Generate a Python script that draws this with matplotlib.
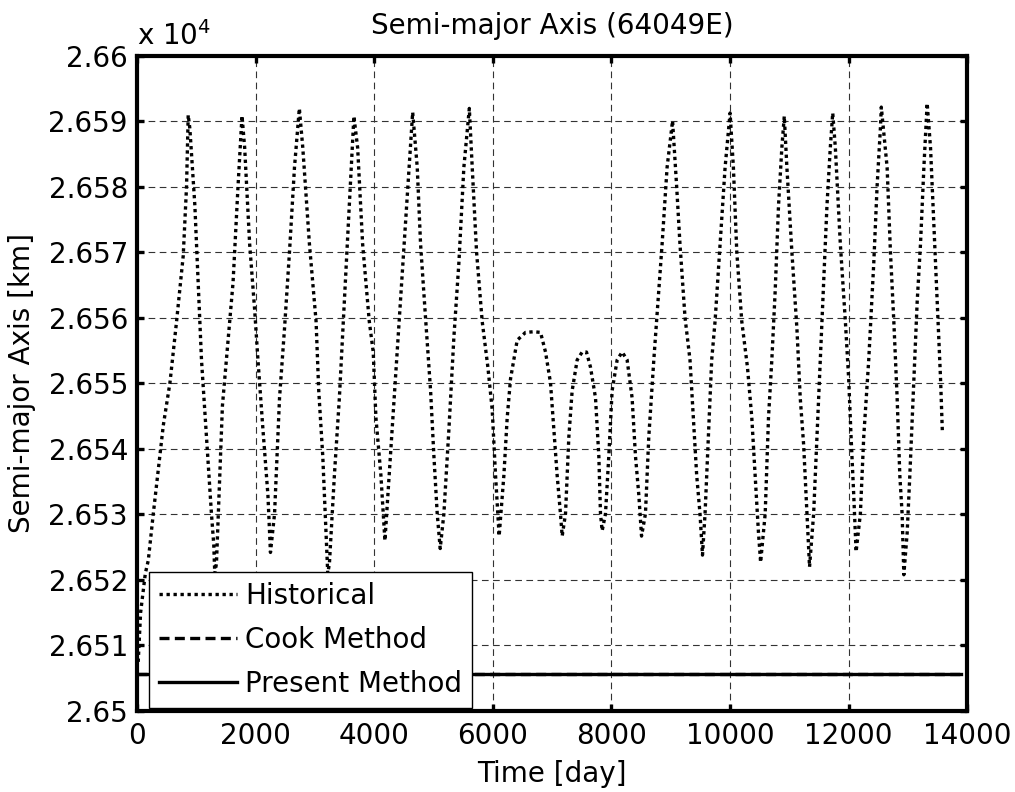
import matplotlib
matplotlib.use("Agg")
import matplotlib.pyplot as plt
from matplotlib.ticker import FuncFormatter

# historical semi-major axis (day, km)
hist_day = [20, 60, 140, 190, 274, 443, 555, 667, 779, 835, 863,
            891, 975, 1031, 1087, 1171, 1255, 1294, 1311,
            1339, 1395, 1440, 1507, 1619, 1703, 1770,
            1815, 1899, 1983, 2039, 2123, 2207, 2250,
            2319, 2403, 2487, 2571, 2655, 2737,
            2795, 2907, 3019, 3064, 3132, 3188, 3216,
            3244, 3328, 3412, 3496, 3580, 3657,
            3720, 3804, 3916, 3983, 4028, 4112, 4180,
            4252, 4336, 4420, 4504, 4588, 4648,
            4725, 4781, 4865, 4950, 5006, 5062, 5112,
            5174, 5259, 5343, 5427, 5511, 5603,
            5652, 5725, 5820, 5916, 5989, 6045, 6084, 6106,
            6186, 6242, 6298, 6410, 6551, 6691, 6804, 6888, 6972, 7028, 7084, 7140, 7169,
            7225, 7281, 7337, 7422, 7506, 7579, 7646, 7731, 7787, 7815, 7843,
            7899, 7955, 8011, 8096, 8180, 8264, 8348, 8405, 8461, 8507,
            8573, 8629, 8714, 8770, 8854, 8938, 9030,
            9099, 9155, 9240, 9324, 9380, 9437, 9493, 9535,
            9578, 9634, 9690, 9747, 9831, 9916, 10000,
            10056, 10113, 10197, 10293, 10366, 10423, 10479, 10515,
            10592, 10648, 10704, 10761, 10817, 10873, 10914,
            10958, 11042, 11127, 11183, 11240, 11296, 11340,
            11409, 11465, 11521, 11578, 11634, 11690, 11731,
            11775, 11859, 11944, 12000, 12040, 12085, 12125,
            12197, 12254, 12338, 12423, 12479, 12535, 12550,
            12648, 12704, 12761, 12817, 12862, 12901, 12930,
            12986, 13031, 13099, 13155, 13211, 13268, 13323,
            13380, 13437, 13493, 13549, 13580]
hist_km = [26507.5, 26515, 26521, 26523, 26530.1, 26543.6, 26550.1, 26559.5, 26569.5, 26580.1, 26591.0,
           26588.9, 26577.2, 26565.4, 26553.6, 26541.9, 26530.1, 26525.4, 26521.0,
           26522.5, 26536.0, 26546.6, 26553.6, 26565.4, 26580.1, 26590.9,
           26586.0, 26571.3, 26561.3, 26553.6, 26543.0, 26533.0, 26524.2,
           26530.1, 26547.8, 26558.4, 26570.1, 26583.0, 26592.0,
           26586.0, 26571.3, 26559.5, 26548.9, 26538.9, 26527.2, 26521.0,
           26522.5, 26536.0, 26547.8, 26562.5, 26577.2, 26590.8,
           26586.0, 26571.3, 26559.5, 26554.8, 26544.8, 26536.0, 26526.0,
           26536.0, 26547.8, 26559.5, 26571.3, 26583.0, 26591.4,
           26583.0, 26571.3, 26560.0, 26548.9, 26538.9, 26530.1, 26524.8,
           26530.1, 26543.0, 26557.1, 26568.4, 26583.0, 26592.0,
           26583.0, 26570.1, 26559.5, 26552.5, 26546.0, 26536.0, 26530.1, 26526.7,
           26536.0, 26544.8, 26550.7, 26556.6, 26557.8, 26557.9, 26557.8, 26554.8, 26550.1, 26543.0, 26536.0, 26530.1, 26526.7,
           26530.1, 26541.8, 26548.9, 26553.6, 26554.8, 26554.8, 26552.5, 26547.8, 26538.9, 26530.1, 26527.5,
           26530.1, 26538.9, 26548.9, 26553.6, 26554.8, 26553.6, 26547.8, 26538.9, 26533.0, 26526.7,
           26530.1, 26541.8, 26553.6, 26560.7, 26571.3, 26583.0, 26590.1,
           26580.1, 26571.3, 26560.1, 26553.6, 26544.8, 26536.0, 26530.1, 26523.8,
           26530.1, 26541.9, 26553.6, 26559.5, 26571.3, 26583.0, 26591.3,
           26583.0, 26570.1, 26559.5, 26552.5, 26544.8, 26536.0, 26527.2, 26522.7,
           26530.1, 26544.8, 26553.6, 26564.2, 26577.2, 26586.0, 26590.8,
           26583.0, 26570.1, 26558.4, 26547.8, 26540.7, 26530.1, 26522.0,
           26530.1, 26541.9, 26553.6, 26565.4, 26577.2, 26586.0, 26591.3,
           26586.0, 26571.3, 26559.5, 26550.7, 26541.9, 26533.0, 26524.3,
           26530.1, 26541.9, 26553.6, 26568.4, 26580.1, 26589.0, 26592.2,
           26583.0, 26570.1, 26559.5, 26547.8, 26536.0, 26530.1, 26520.8,
           26527.2, 26536.0, 26550.7, 26562.5, 26571.3, 26583.0, 26592.8,
           26586.0, 26574.2, 26562.5, 26550.7, 26542.5]

# predicted (constant) semi-major axis
pred_day = [0, 13900]
cook_km = [26505.6, 26505.6]
present_km = [26505.6, 26505.6]

scale = 1e4
fs = 20

fig = plt.figure(figsize=(10.15, 7.92), dpi=100)
ax = fig.add_axes([0.135, 0.1023, 0.818, 0.827])

ax.plot(hist_day, [v / scale for v in hist_km], color='black', lw=2.4,
        dashes=(1, 1.1), dash_capstyle='butt', label='Historical')
ax.plot(pred_day, [v / scale for v in cook_km], color='black', lw=2.4,
        dashes=(3, 1.6), label='Cook Method')
ax.plot(pred_day, [v / scale for v in present_km], color='black', lw=2.4,
        label='Present Method')

ax.set_xlim(0, 14000)
ax.set_ylim(2.65, 2.66)
ax.set_xticks(range(0, 14001, 2000))
ax.set_yticks([2.65 + 0.001 * i for i in range(11)])
ax.yaxis.set_major_formatter(FuncFormatter(lambda v, p: '%g' % round(v, 4)))

ax.grid(True, color='0.2', lw=0.8, dashes=(6, 4))
ax.tick_params(direction='in', length=5, width=2.4, top=True, right=True,
               labelsize=fs)
ax.tick_params(axis='y', pad=6.5)
ax.tick_params(axis='x', pad=8)
for s in ax.spines.values():
    s.set_linewidth(3)

ax.set_title('Semi-major Axis (64049E)', fontsize=fs, pad=16)
ax.set_xlabel('Time [day]', fontsize=fs, labelpad=7)
ax.set_ylabel('Semi-major Axis [km]', fontsize=fs, labelpad=9)
ax.text(0.0, 1.017, 'x 10$^4$', transform=ax.transAxes, fontsize=fs,
        ha='left', va='baseline')

leg = ax.legend(loc='lower left', bbox_to_anchor=(0.0145, 0.005), fontsize=fs,
                fancybox=False, framealpha=1, edgecolor='black',
                handlelength=2.8, borderpad=0.35, labelspacing=0.58,
                handletextpad=0.3, borderaxespad=0)
leg.get_frame().set_linewidth(1.0)

fig.savefig('out.png', dpi=100)
